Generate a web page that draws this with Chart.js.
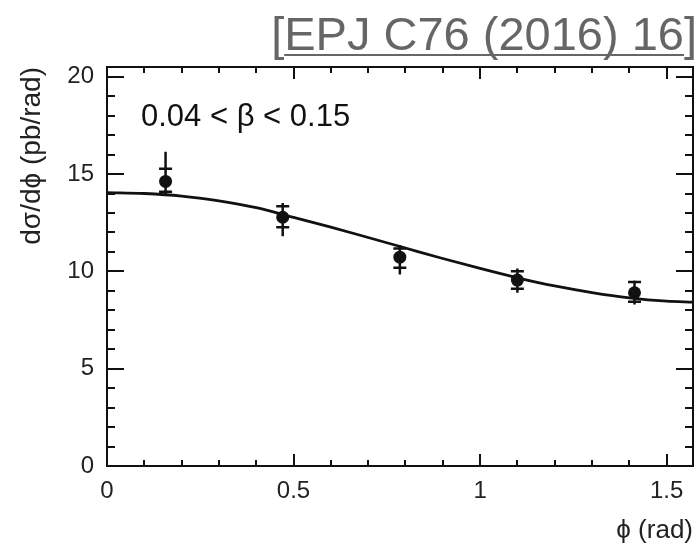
<!DOCTYPE html>
<html><head><meta charset="utf-8">
<script src="https://cdn.jsdelivr.net/npm/chart.js@4.4.1/dist/chart.umd.min.js"></script>
<style>html,body{margin:0;padding:0;background:#fff;}#wrap{width:700px;height:552px;}</style>
</head><body><div id="wrap"><canvas id="c" width="700" height="552"></canvas></div>
<script>
// ---- data ----
const phiCenters = [0.157, 0.471, 0.785, 1.100, 1.414];
const xsecValues = [14.62, 12.78, 10.73, 9.55, 8.90];
const capLow  = [14.09, 12.27, 10.18, 9.11, 8.44];
const capHigh = [15.27, 13.34, 11.18, 10.01, 9.45];
const lineLow  = [13.94, 11.80, 9.84, 8.90, 8.30];
const lineHigh = [16.14, 13.51, 11.35, 10.15, 9.53];
const curvePhi = [0, 0.1, 0.2, 0.3, 0.4, 0.5, 0.6, 0.7, 0.8, 0.9, 1.0, 1.1, 1.2, 1.3, 1.4, 1.5, 1.5708];
const curveVal = [14.05, 14.00, 13.87, 13.62, 13.27, 12.77, 12.27, 11.74, 11.20, 10.66, 10.15, 9.67, 9.25, 8.91, 8.64, 8.47, 8.42];
const xTickValues = [0, 0.5, 1, 1.5];
const xTickLabels = ['0', '0.5', '1', '1.5'];
const yTickValues = [0, 5, 10, 15, 20];
const yTickLabels = ['0', '5', '10', '15', '20'];
const xRange = [0, 1.5708];
const yRange = [0, 20.5];
const rangeLabel = '0.04 < \u03B2 < 0.15';
const refText = ['[', 'EPJ C76 (2016) 16', ']'];

const FONT = '"Liberation Sans", Arial, Helvetica, sans-serif';

const pointData = phiCenters.map((x, i) => ({x, y: xsecValues[i]}));
const curveData = curvePhi.map((x, i) => ({x, y: curveVal[i]}));

const decor = {
  id: 'decor',
  beforeDatasetsDraw(chart) {
    const {ctx} = chart;
    const xs = chart.scales.x, ys = chart.scales.y;
    ctx.save();
    ctx.strokeStyle = '#111';
    ctx.lineWidth = 2.5;
    ctx.lineCap = 'butt';
    phiCenters.forEach((p, i) => {
      const px = xs.getPixelForValue(p);
      ctx.beginPath();
      ctx.moveTo(px, ys.getPixelForValue(lineLow[i]));
      ctx.lineTo(px, ys.getPixelForValue(lineHigh[i]));
      [capLow[i], capHigh[i]].forEach(v => {
        const py = ys.getPixelForValue(v);
        ctx.moveTo(px - 6.5, py);
        ctx.lineTo(px + 6.5, py);
      });
      ctx.stroke();
    });
    ctx.restore();
  },
  afterDraw(chart) {
    const {ctx, chartArea: a} = chart;
    const xs = chart.scales.x, ys = chart.scales.y;
    ctx.save();
    ctx.strokeStyle = '#111';
    ctx.lineWidth = 2;
    ctx.strokeRect(a.left, a.top, a.right - a.left, a.bottom - a.top);
    ctx.beginPath();
    for (let v = Math.ceil(ys.min); v <= ys.max + 1e-9; v += 1) {
      const py = Math.round(ys.getPixelForValue(v));
      const len = (v % 5 === 0) ? 17 : 8;
      ctx.moveTo(a.left, py); ctx.lineTo(a.left + len, py);
      ctx.moveTo(a.right, py); ctx.lineTo(a.right - len, py);
    }
    for (let k = 0; k * 0.1 <= xs.max + 1e-9; k++) {
      const v = k * 0.1;
      const px = Math.round(xs.getPixelForValue(v));
      const len = (k % 5 === 0) ? 12 : 6;
      ctx.moveTo(px, a.bottom); ctx.lineTo(px, a.bottom - len);
      ctx.moveTo(px, a.top); ctx.lineTo(px, a.top + len);
    }
    ctx.stroke();
    ctx.fillStyle = '#111';
    ctx.font = '31px ' + FONT;
    ctx.textAlign = 'left';
    ctx.textBaseline = 'alphabetic';
    ctx.fillText(rangeLabel, 141, 126);
    ctx.fillStyle = '#666';
    ctx.font = '47px ' + FONT;
    const rightX = 697, base = 50;
    const wR = ctx.measureText(refText[2]).width;
    const wM = ctx.measureText(refText[1]).width;
    const wL = ctx.measureText(refText[0]).width;
    const xM = rightX - wR - wM;
    ctx.fillText(refText[0], xM - wL, base);
    ctx.fillText(refText[1], xM, base);
    ctx.fillText(refText[2], rightX - wR, base);
    ctx.fillRect(xM, base + 4, wM, 2);
    ctx.restore();
  }
};

new Chart(document.getElementById('c'), {
  type: 'scatter',
  data: {
    datasets: [
      {
        data: curveData, showLine: true, borderColor: '#111', borderWidth: 2.8,
        pointRadius: 0, cubicInterpolationMode: 'monotone', fill: false
      },
      {
        data: pointData, showLine: false, pointRadius: 6.5, pointHoverRadius: 6.5,
        pointBackgroundColor: '#111', pointBorderColor: '#111', pointBorderWidth: 0
      }
    ]
  },
  options: {
    responsive: false, animation: false, devicePixelRatio: 1,
    layout: {padding: {top: 67, right: 7, left: 0, bottom: 0}},
    plugins: {legend: {display: false}, tooltip: {enabled: false}},
    scales: {
      x: {
        type: 'linear', min: xRange[0], max: xRange[1],
        grid: {display: false, drawTicks: false}, border: {display: false},
        afterBuildTicks: s => { s.ticks = xTickValues.map(v => ({value: v})); },
        afterFit: s => { s.height = 86; },
        ticks: {
          padding: 11, color: '#222', font: {family: FONT, size: 24},
          maxRotation: 0, autoSkip: false,
          callback: (v) => xTickLabels[xTickValues.indexOf(v)] ?? ''
        },
        title: {display: true, text: '\u03D5 (rad)', align: 'end', color: '#222',
          font: {family: FONT, size: 26}, padding: {top: 0, bottom: 6}}
      },
      y: {
        type: 'linear', min: yRange[0], max: yRange[1],
        grid: {display: false, drawTicks: false}, border: {display: false},
        afterBuildTicks: s => { s.ticks = yTickValues.map(v => ({value: v})); },
        afterFit: s => { s.width = 107; },
        ticks: {
          padding: 13, color: '#222', font: {family: FONT, size: 24}, autoSkip: false,
          callback: (v) => yTickLabels[yTickValues.indexOf(v)] ?? ''
        },
        title: {display: true, text: 'd\u03C3/d\u03D5 (pb/rad)', align: 'end', color: '#222',
          font: {family: FONT, size: 28}, padding: {top: 15, bottom: 0}}
      }
    }
  },
  plugins: [decor]
});
</script></body></html>
